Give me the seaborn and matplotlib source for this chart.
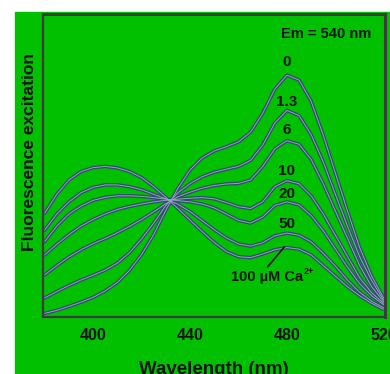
import pandas as pd
import seaborn as sns
import matplotlib.pyplot as plt
from matplotlib.patches import Rectangle

sns.set_style("white")
plt.rcParams['font.family'] = ['Liberation Sans', 'DejaVu Sans']
plt.rcParams['font.weight'] = 'bold'
plt.rcParams['axes.labelweight'] = 'bold'

# wavelength grid (nm) and excitation traces (axis units 0..1)
wavelength = [380, 385, 390, 395, 400, 405, 410, 415, 420, 425, 430, 435, 440, 445, 450,
              455, 460, 465, 470, 475, 480, 485, 490, 495, 500, 505, 510, 515, 520]

ca_0 = [.012, .022, .035, .049, .065, .086, .114, .154, .206, .272, .352, .425, .485, .525, .548,
        .562, .578, .610, .672, .752, .798, .782, .712, .600, .475, .350, .230, .135, .062]
ca_1_3 = [.063, .084, .104, .122, .138, .155, .178, .212, .258, .310, .368, .410, .440, .463, .478,
          .488, .497, .517, .567, .640, .682, .665, .602, .512, .405, .300, .200, .120, .055]
ca_6 = [.139, .170, .198, .222, .242, .259, .278, .299, .322, .347, .374, .397, .412, .425, .434,
        .439, .441, .452, .497, .555, .582, .570, .520, .440, .350, .260, .170, .100, .050]
ca_10 = [.205, .240, .272, .300, .322, .340, .355, .365, .373, .380, .385, .389, .392, .394, .390,
         .378, .364, .358, .380, .430, .450, .440, .400, .340, .270, .200, .130, .080, .045]
ca_20 = [.249, .300, .340, .366, .385, .395, .400, .400, .398, .394, .389, .384, .380, .373, .360,
         .340, .319, .310, .330, .368, .380, .370, .335, .285, .225, .165, .110, .070, .040]
ca_50 = [.287, .340, .380, .410, .428, .436, .436, .430, .420, .405, .390, .372, .348, .318, .288,
         .261, .241, .234, .245, .268, .277, .270, .248, .210, .168, .122, .082, .052, .030]
ca_100 = [.343, .405, .452, .480, .493, .497, .492, .480, .460, .430, .395, .358, .320, .282, .246,
          .216, .199, .196, .208, .222, .229, .224, .205, .170, .135, .100, .070, .045, .025]

conc_labels = ["0", "1.3", "6", "10", "20", "50", "100"]
traces = [ca_0, ca_1_3, ca_6, ca_10, ca_20, ca_50, ca_100]

df = pd.concat([pd.DataFrame({"wl": wavelength, "F": t, "conc": c})
                for c, t in zip(conc_labels, traces)], ignore_index=True)

green = "#00c000"
frame = "#3c3c3c"
ink = "#151515"

fig = plt.figure(figsize=(3.9, 3.74), dpi=100, facecolor="white")
fig.patches.append(Rectangle((15 / 390, 0), 1 - 15 / 390, 1 - 12 / 374,
                             transform=fig.transFigure, color=green, zorder=-10))
ax = fig.add_axes([43 / 390, 57 / 374, 342 / 390, 303 / 374])
ax.set_facecolor(green)

# dark outline + light core, like the scanned traces
pal_dark = {c: "#2f4b70" for c in conc_labels}
pal_light = {c: "#93a6b8" for c in conc_labels}
sns.lineplot(data=df, x="wl", y="F", hue="conc", palette=pal_dark, lw=2.5,
             legend=False, ax=ax)
sns.lineplot(data=df, x="wl", y="F", hue="conc", palette=pal_light, lw=0.7,
             legend=False, ax=ax)

ax.set_xlim(379.3, 520.5)
ax.set_ylim(0, 1)
ax.set_xticks([400, 440, 480, 520])
ax.set_yticks([])
ax.tick_params(axis="x", direction="out", length=3, width=1.5, color=frame,
               pad=5, labelsize=11.5, labelcolor=ink)
for s in ax.spines.values():
    s.set_color(frame)
    s.set_linewidth(1.6)
ax.spines["top"].set_linewidth(2.2)
ax.spines["right"].set_linewidth(2.2)

ax.set_xlabel("Wavelength (nm)", fontsize=13.5, color=ink)
ax.xaxis.set_label_coords(0.5, -0.145)
ax.set_ylabel("Fluorescence excitation", fontsize=12.5, color=ink)
ax.yaxis.set_label_coords(-0.0175, 0.545)

# labels on the traces
ax.text(496.2, 0.934, "Em = 540 nm", fontsize=10.5, ha="center", va="center", color=ink)
for lab, y in zip(["0", "1.3", "6", "10", "20", "50"],
                  [0.843, 0.71, 0.617, 0.483, 0.407, 0.306]):
    ax.text(480, y, lab, fontsize=11, ha="center", va="center", color=ink)
ax.text(486.6, 0.132, "100 µM Ca", fontsize=10.5, ha="right", va="center", color=ink)
ax.text(486.8, 0.150, "2+", fontsize=6.5, ha="left", va="center", color=ink)
ax.plot([472.0, 478.9], [0.165, 0.231], color="#1a1a1a", lw=1.2)

fig.savefig("out.png", dpi=100, facecolor="white")
